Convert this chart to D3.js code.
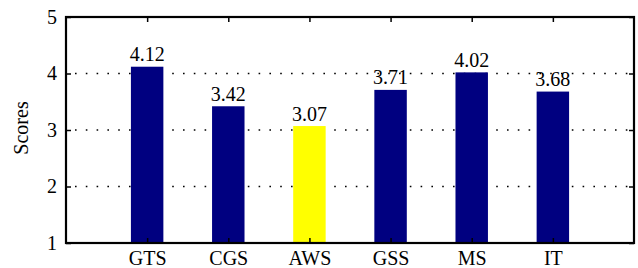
<!DOCTYPE html>
<html>
<head>
<meta charset="utf-8">
<script src="https://cdn.jsdelivr.net/npm/d3@7"></script>
<style>
  html, body { margin: 0; padding: 0; background: #fff; }
  svg { display: block; }
  text { font-family: "Liberation Serif", "Times New Roman", serif; fill: #000; }
</style>
</head>
<body>
<script>
const categories = ["GTS", "CGS", "AWS", "GSS", "MS", "IT"];
const scores = [4.12, 3.42, 3.07, 3.71, 4.02, 3.68];
const valueLabels = ["4.12", "3.42", "3.07", "3.71", "4.02", "3.68"];
const barColors = ["#000080", "#000080", "#ffff00", "#000080", "#000080", "#000080"];
const yTicks = [1, 2, 3, 4, 5];
const gridValues = [2, 3, 4];

const W = 638, H = 268;
const pLeft = 66, pRight = 634, pTop = 17, pBottom = 243;

const svg = d3.select("body").append("svg").attr("width", W).attr("height", H);

const x = d3.scaleLinear().domain([0, 7]).range([pLeft, pRight]);
const y = d3.scaleLinear().domain([1, 5]).range([pBottom, pTop]);
const barW = x(0.4) - x(0);

// grid
svg.append("g").selectAll("line").data(gridValues).join("line")
  .attr("x1", pLeft).attr("x2", pRight)
  .attr("y1", d => y(d)).attr("y2", d => y(d))
  .attr("stroke", "#000").attr("stroke-width", 1.6)
  .attr("stroke-dasharray", "1.6,9.2")
  .attr("stroke-dashoffset", -9);

// bars
svg.append("g").selectAll("rect").data(scores).join("rect")
  .attr("x", (d, i) => x(i + 1) - barW / 2)
  .attr("width", barW)
  .attr("y", d => y(d))
  .attr("height", d => y(1) - y(d))
  .attr("fill", (d, i) => barColors[i]);

// value labels
svg.append("g").selectAll("text").data(scores).join("text")
  .attr("x", (d, i) => x(i + 1))
  .attr("y", d => y(d) - 5.5)
  .attr("text-anchor", "middle")
  .attr("font-size", 20)
  .text((d, i) => valueLabels[i]);

// axes with inward ticks
const tickLen = 5;
const axLeft = svg.append("g").attr("transform", `translate(${pLeft},0)`)
  .call(d3.axisLeft(y).tickValues(yTicks).tickSize(-tickLen).tickPadding(tickLen + 4).tickFormat(d3.format("d")));
const axRight = svg.append("g").attr("transform", `translate(${pRight},0)`)
  .call(d3.axisRight(y).tickValues(yTicks).tickSize(-tickLen).tickFormat(""));
const axBottom = svg.append("g").attr("transform", `translate(0,${pBottom})`)
  .call(d3.axisBottom(x).tickValues([1,2,3,4,5,6]).tickSize(-tickLen).tickPadding(tickLen + 3)
    .tickFormat(d => categories[d - 1]));
const axTop = svg.append("g").attr("transform", `translate(0,${pTop})`)
  .call(d3.axisTop(x).tickValues([1,2,3,4,5,6]).tickSize(-tickLen).tickFormat(""));

[axLeft, axRight, axBottom, axTop].forEach(g => {
  g.select(".domain").remove();
  g.selectAll(".tick line").attr("stroke", "#000").attr("stroke-width", 1.5);
  g.selectAll("text").attr("font-size", 20).attr("font-family", "Liberation Serif, serif").attr("fill", "#000");
});
axBottom.selectAll(".tick text").attr("dy", "0.71em");

// frame
svg.append("rect")
  .attr("x", pLeft).attr("y", pTop)
  .attr("width", pRight - pLeft).attr("height", pBottom - pTop)
  .attr("fill", "none").attr("stroke", "#000").attr("stroke-width", 2.2);

// y label
svg.append("text")
  .attr("transform", `translate(28,${(pTop + pBottom) / 2 - 2}) rotate(-90)`)
  .attr("text-anchor", "middle")
  .attr("font-size", 20)
  .text("Scores");
</script>
</body>
</html>
